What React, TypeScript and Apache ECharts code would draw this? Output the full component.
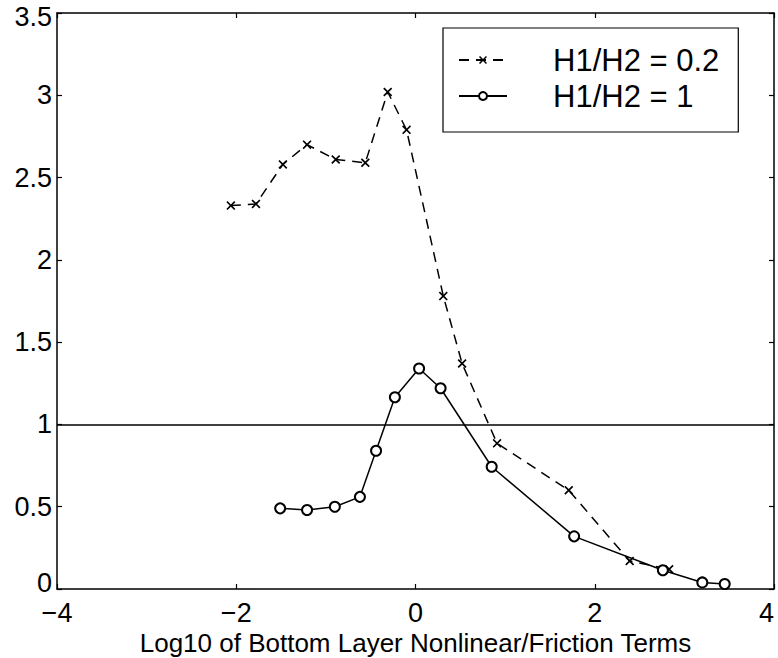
import React, { useEffect, useRef } from "react";
import * as echarts from "echarts";

// Data
const ratio02X = [-2.06, -1.78, -1.48, -1.21, -0.89, -0.56, -0.31, -0.1, 0.31, 0.52, 0.91, 1.71, 2.39, 2.83];
const ratio02Y = [2.33, 2.34, 2.58, 2.7, 2.61, 2.59, 3.02, 2.79, 1.78, 1.37, 0.885, 0.6, 0.17, 0.12];
const ratio1X = [-1.51, -1.21, -0.9, -0.62, -0.44, -0.23, 0.04, 0.28, 0.85, 1.77, 2.76, 3.2, 3.45];
const ratio1Y = [0.49, 0.48, 0.5, 0.56, 0.84, 1.165, 1.34, 1.22, 0.743, 0.32, 0.114, 0.04, 0.03];
const seriesNames = ["H1/H2 = 0.2", "H1/H2 = 1"];
const referenceLevel = 1;
const xTicks = { min: -4, max: 4, interval: 2 };
const yTicks = { min: 0, max: 3.5, interval: 0.5 };
const xAxisTitle = "Log10 of Bottom Layer Nonlinear/Friction Terms";

const FONT = "'Liberation Sans', Arial, Helvetica, sans-serif";
const CROSS =
  "path://M0,1.3 L1.3,0 L5,3.7 L8.7,0 L10,1.3 L6.3,5 L10,8.7 L8.7,10 L5,6.3 L1.3,10 L0,8.7 L3.7,5 Z";

const fmtX = (v: number) => (v < 0 ? "\u2212" + Math.abs(v) : String(v));
const fmtY = (v: number) =>
  v === yTicks.min ? "{lo|" + v + "}" : v === yTicks.max ? "{hi|" + v + "}" : String(v);

export default function App() {
  const ref = useRef<HTMLDivElement>(null);
  useEffect(() => {
    if (!ref.current) return;
    const chart = echarts.init(ref.current, undefined, { renderer: "svg" });
    const axisLine = { show: true, onZero: false, lineStyle: { color: "#000", width: 1.5 } };
    const tick = { show: true, inside: true, length: 5, lineStyle: { color: "#000", width: 1.2 } };
    const labelStyle = { fontSize: 27, lineHeight: 20, color: "#000", fontFamily: FONT };
    chart.setOption({
      animation: false,
      backgroundColor: "#fff",
      textStyle: { fontFamily: FONT, color: "#000" },
      grid: { left: 57, right: 4, top: 13, bottom: 69, containLabel: false, outerBoundsMode: "none" },
      legend: {
        orient: "vertical",
        left: 443,
        top: 28,
        data: seriesNames,
        itemWidth: 48,
        itemHeight: 10,
        itemGap: 0,
        padding: [14, 19, 18, 15],
        borderColor: "#000",
        borderWidth: 1.2,
        backgroundColor: "#fff",
        textStyle: {
          fontFamily: FONT,
          fontSize: 31,
          color: "#000",
          lineHeight: 36,
          padding: [0, 0, 0, 41],
        },
      },
      xAxis: [
        {
          type: "value",
          min: xTicks.min,
          max: xTicks.max,
          interval: xTicks.interval,
          position: "bottom",
          axisLine,
          axisTick: tick,
          splitLine: { show: false },
          axisLabel: { ...labelStyle, margin: 14, formatter: fmtX, alignMaxLabel: "right" },
          name: xAxisTitle,
          nameLocation: "middle",
          nameGap: 41,
          nameMoveOverlap: false,
          nameTextStyle: { fontSize: 26, lineHeight: 26, color: "#000", fontFamily: FONT },
        },
        {
          type: "value",
          min: xTicks.min,
          max: xTicks.max,
          interval: xTicks.interval,
          position: "top",
          axisLine,
          axisTick: tick,
          splitLine: { show: false },
          axisLabel: { show: false },
        },
      ],
      yAxis: [
        {
          type: "value",
          min: yTicks.min,
          max: yTicks.max,
          interval: yTicks.interval,
          position: "left",
          axisLine,
          axisTick: tick,
          splitLine: { show: false },
          axisLabel: {
            ...labelStyle,
            margin: 5,
            formatter: fmtY,
            rich: {
              lo: { ...labelStyle, padding: [0, 0, 13, 0] },
              hi: { ...labelStyle, padding: [7, 0, 0, 0] },
            },
          },
        },
        {
          type: "value",
          min: yTicks.min,
          max: yTicks.max,
          interval: yTicks.interval,
          position: "right",
          axisLine,
          axisTick: tick,
          splitLine: { show: false },
          axisLabel: { show: false },
        },
      ],
      series: [
        {
          name: seriesNames[0],
          type: "line",
          xAxisIndex: 0,
          yAxisIndex: 0,
          data: ratio02X.map((x, i) => [x, ratio02Y[i]]),
          symbol: CROSS,
          symbolSize: 9,
          itemStyle: { color: "#000" },
          lineStyle: { color: "#000", width: 1.5, type: [10, 7] },
        },
        {
          name: seriesNames[1],
          type: "line",
          xAxisIndex: 0,
          yAxisIndex: 0,
          data: ratio1X.map((x, i) => [x, ratio1Y[i]]),
          symbol: "emptyCircle",
          symbolSize: 10,
          itemStyle: { color: "#000", borderWidth: 1.4 },
          lineStyle: { color: "#000", width: 1.5, type: "solid" },
          markLine: {
            silent: true,
            symbol: ["none", "none"],
            label: { show: false },
            lineStyle: { color: "#000", type: "solid", width: 1.5 },
            data: [{ yAxis: referenceLevel }],
          },
        },
      ],
    });
    return () => chart.dispose();
  }, []);
  return (
    <div
      ref={ref}
      style={{ position: "fixed", left: 0, top: 0, width: 778, height: 658, background: "#fff" }}
    />
  );
}
